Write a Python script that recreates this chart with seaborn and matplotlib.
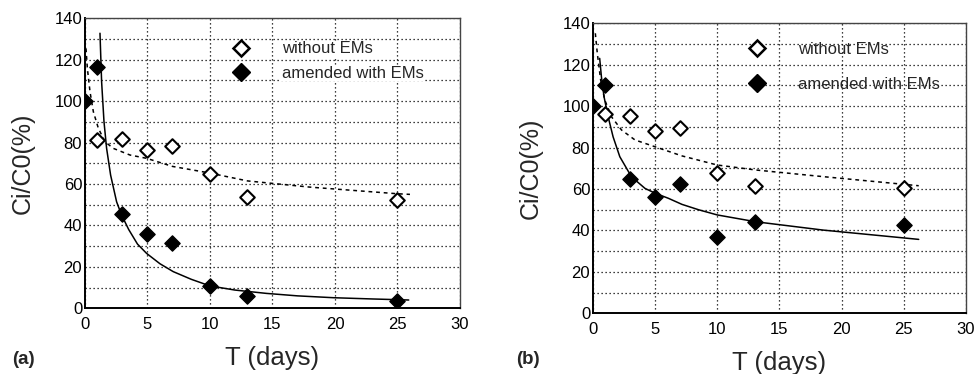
import pandas as pd
import matplotlib.pyplot as plt
import seaborn as sns
import numpy as np
from matplotlib.lines import Line2D
from matplotlib.ticker import MultipleLocator

# measured points, panel (a)
days = [0, 1, 3, 5, 7, 10, 13, 25]
a_without = [np.nan, 81.2, 81.8, 76.4, 78.5, 64.7, 53.6, 52.3]
a_amended = [100, 116.6, 45.4, 35.7, 31.7, 10.6, 6.0, 3.6]
# measured points, panel (b)
b_without = [np.nan, 96.2, 95.3, 88.0, 89.3, 67.9, 61.5, 60.3]
b_amended = [100.2, 110.2, 64.7, 56.3, 62.3, 36.7, 44.2, 42.6]

# fitted curves
a_fit_without_x = [0.08, 0.19, 0.4, 0.67, 1.07, 1.6, 2.27, 3.6, 4.93, 7.0, 9.9, 13.0, 18.0, 25.0, 26.0]
a_fit_without_y = [125.5, 115.9, 104.6, 94.9, 86.9, 80.4, 77.2, 74.0, 72.4, 68.5, 65.4, 61.5, 58.5, 55.3, 55.0]
a_fit_amended_x = [1.2, 1.33, 1.52, 1.73, 2.05, 2.53, 2.93, 3.5, 4.2, 4.93, 6.0, 7.06, 8.5, 10.0, 12.0, 14.5, 17.0, 19.9, 23.0, 25.9]
a_fit_amended_y = [132.8, 109.4, 90.1, 77.2, 64.3, 51.4, 45.0, 38.0, 31.0, 26.5, 21.5, 17.7, 14.0, 10.8, 8.8, 7.2, 6.0, 5.1, 4.5, 4.0]
b_fit_without_x = [0.19, 0.35, 0.62, 0.95, 1.49, 2.3, 3.38, 5.0, 7.16, 10.0, 13.1, 18.5, 26.2]
b_fit_without_y = [135.2, 125.5, 112.6, 103.0, 94.9, 88.5, 83.7, 80.4, 76.0, 71.6, 69.2, 66.0, 61.6]
b_fit_amended_x = [0.54, 0.68, 0.89, 1.22, 1.62, 2.16, 3.1, 4.19, 5.0, 6.08, 7.16, 8.5, 10.0, 13.1, 18.5, 26.2]
b_fit_amended_y = [123.1, 114.2, 104.6, 94.9, 85.2, 75.6, 65.9, 60.3, 58.0, 55.5, 52.6, 50.0, 47.5, 44.2, 40.2, 35.7]

sns.set_style("white")
plt.rcParams['font.family'] = ['Liberation Sans', 'DejaVu Sans']

fig = plt.figure(figsize=(9.78, 3.74), dpi=100)
ax_a = fig.add_axes([0.0869, 0.1757, 0.3834, 0.7753])
ax_b = fig.add_axes([0.6063, 0.1622, 0.3814, 0.7754])

panels = [
    (ax_a, a_without, a_amended, a_fit_without_x, a_fit_without_y, a_fit_amended_x, a_fit_amended_y),
    (ax_b, b_without, b_amended, b_fit_without_x, b_fit_without_y, b_fit_amended_x, b_fit_amended_y),
]

for ax, wo, am, fwx, fwy, fax, fay in panels:
    ax.set_xlim(0, 30)
    ax.set_ylim(0, 140)
    ax.xaxis.set_major_locator(MultipleLocator(5))
    ax.yaxis.set_major_locator(MultipleLocator(20))
    ax.yaxis.set_minor_locator(MultipleLocator(10))
    ax.grid(True, which='both', color='black', linestyle=(0, (1, 2.2)), linewidth=0.9)
    ax.set_axisbelow(True)
    ax.tick_params(axis='both', which='both', length=0, labelsize=12, colors='black')
    ax.tick_params(axis='x', pad=6)
    ax.tick_params(axis='y', pad=2)
    for s in ['left', 'bottom']:
        ax.spines[s].set_color('black')
        ax.spines[s].set_linewidth(1.4)
    for s in ['top', 'right']:
        ax.spines[s].set_color('#444444')
        ax.spines[s].set_linewidth(1.0)

    sns.lineplot(x=fwx, y=fwy, ax=ax, color='black', linewidth=1.1, linestyle=(0, (2.5, 2.5)), sort=False)
    sns.lineplot(x=fax, y=fay, ax=ax, color='black', linewidth=1.1, sort=False)

    df = pd.DataFrame({'T': days, 'without': wo, 'amended': am})
    sns.scatterplot(data=df, x='T', y='without', ax=ax, marker='D', s=55,
                    facecolor='white', edgecolor='black', linewidth=1.5, zorder=4)
    sns.scatterplot(data=df, x='T', y='amended', ax=ax, marker='D', s=60,
                    color='black', edgecolor='black', linewidth=1, zorder=5)

    ax.set_xlabel('T (days)', fontsize=18.5, labelpad=10)
    ax.set_ylabel('Ci/C0(%)', fontsize=18, labelpad=14)

handles = [
    Line2D([], [], marker='D', linestyle='none', markersize=8.5, markerfacecolor='white',
           markeredgecolor='black', markeredgewidth=1.8),
    Line2D([], [], marker='D', linestyle='none', markersize=9.5, markerfacecolor='black',
           markeredgecolor='black'),
]
labels = ['without EMs', 'amended with EMs']

leg_a = ax_a.legend(handles, labels, loc='upper left', bbox_to_anchor=(0.354, 0.972), frameon=False,
                    fontsize=12, handlelength=1.0, handletextpad=1.95, labelspacing=0.55)
for t in leg_a.get_texts():
    t.set_bbox(dict(facecolor='white', edgecolor='none', pad=0.5))
ax_b.legend(handles, labels, loc='upper left', bbox_to_anchor=(0.376, 0.987), frameon=False,
            fontsize=12, handlelength=1.0, handletextpad=2.0, labelspacing=1.2)

fig.text(12 / 978, 1 - 360 / 374, '(a)', fontsize=13.5, fontweight='bold', va='center', ha='left')
fig.text(516 / 978, 1 - 360 / 374, '(b)', fontsize=13.5, fontweight='bold', va='center', ha='left')

fig.savefig('out.png', dpi=100)
